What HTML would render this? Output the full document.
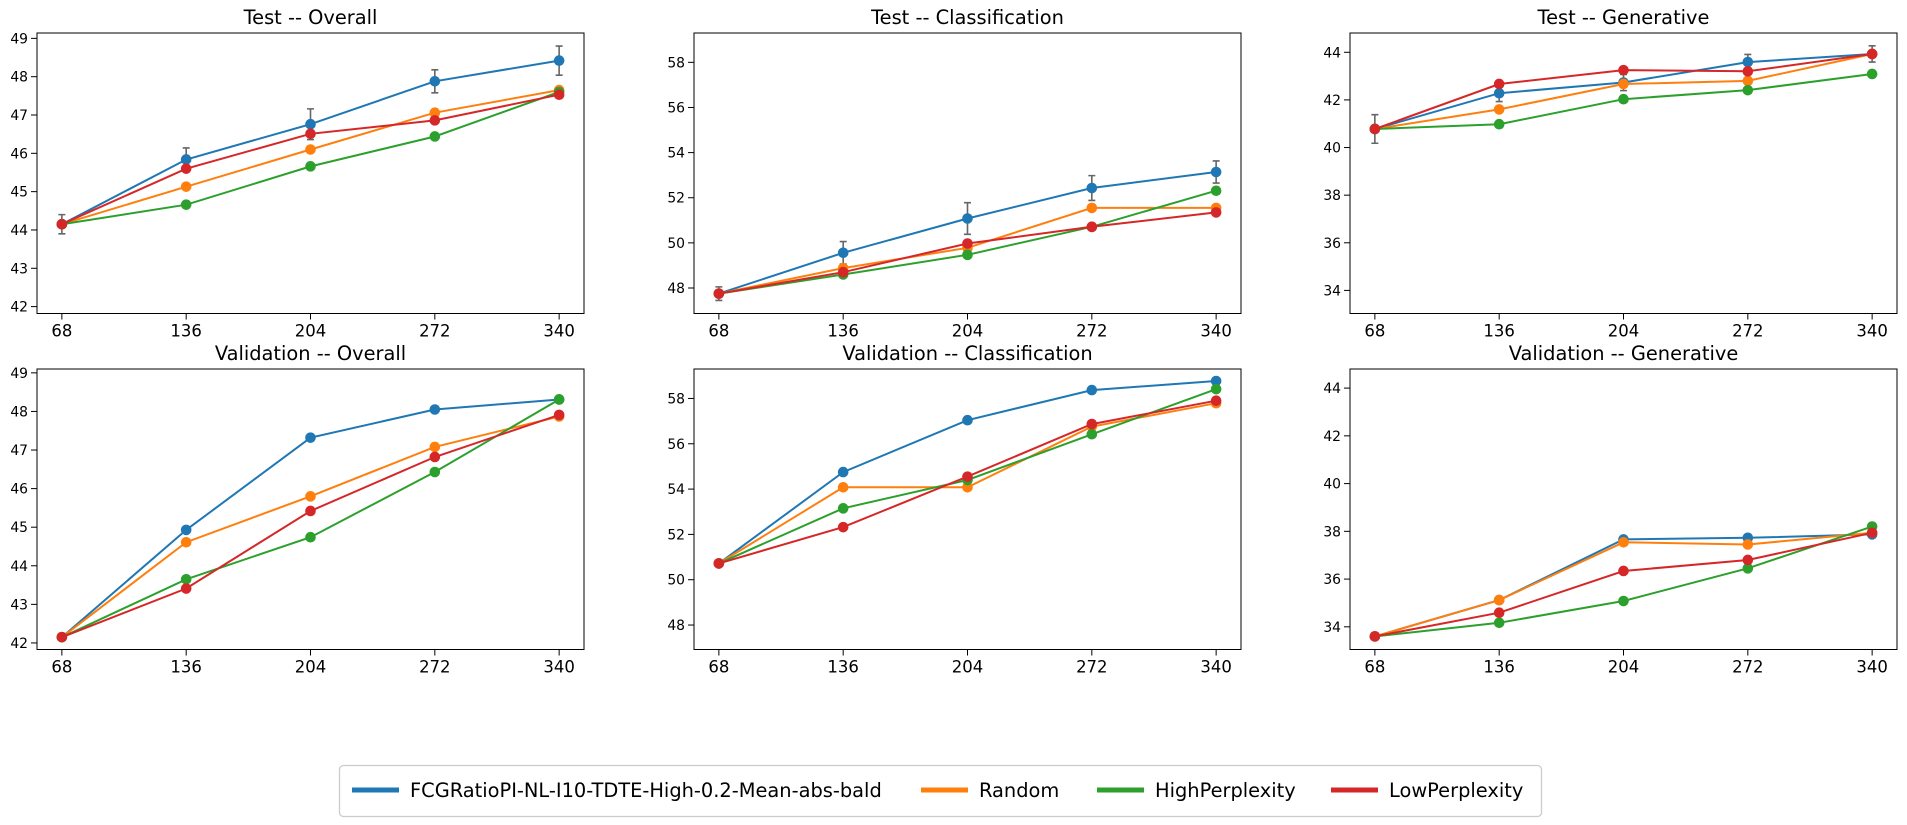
<!DOCTYPE html>
<html><head><meta charset="utf-8">
<style>
html,body{margin:0;padding:0;background:#fff;}
svg{display:block;font-family:"DejaVu Sans","Liberation Sans",sans-serif;}
</style></head>
<body>
<svg id="fig" width="1907" height="825" viewBox="0 0 1907 825" xmlns="http://www.w3.org/2000/svg"></svg>
<script>
const categories = [68, 136, 204, 272, 340];
const seriesNames = ["FCGRatioPI-NL-I10-TDTE-High-0.2-Mean-abs-bald", "Random", "HighPerplexity", "LowPerplexity"];
const seriesColors = ["#1f77b4", "#ff7f0e", "#2ca02c", "#d62728"];

const testOverallBlue = [44.15, 45.84, 46.76, 47.88, 48.42];
const testOverallOrange = [44.15, 45.13, 46.10, 47.06, 47.65];
const testOverallGreen = [44.15, 44.66, 45.66, 46.44, 47.60];
const testOverallRed = [44.15, 45.60, 46.51, 46.86, 47.53];
const testOverallErr = [0.25, 0.30, 0.40, 0.30, 0.38];

const testClassBlue = [47.75, 49.56, 51.08, 52.43, 53.14];
const testClassOrange = [47.75, 48.88, 49.78, 51.55, 51.55];
const testClassGreen = [47.75, 48.60, 49.47, 50.71, 52.31];
const testClassRed = [47.75, 48.70, 49.97, 50.71, 51.35];
const testClassErr = [0.30, 0.50, 0.70, 0.55, 0.49];

const testGenBlue = [40.78, 42.28, 42.73, 43.59, 43.93];
const testGenOrange = [40.78, 41.60, 42.67, 42.80, 43.93];
const testGenGreen = [40.78, 40.98, 42.03, 42.41, 43.09];
const testGenRed = [40.78, 42.67, 43.25, 43.20, 43.93];
const testGenErr = [0.60, 0.35, 0.34, 0.32, 0.34];

const valOverallBlue = [42.15, 44.93, 47.32, 48.05, 48.31];
const valOverallOrange = [42.15, 44.61, 45.80, 47.08, 47.87];
const valOverallGreen = [42.15, 43.65, 44.74, 46.43, 48.31];
const valOverallRed = [42.15, 43.41, 45.42, 46.82, 47.91];

const valClassBlue = [50.72, 54.75, 57.04, 58.37, 58.77];
const valClassOrange = [50.72, 54.08, 54.08, 56.76, 57.79];
const valClassGreen = [50.72, 53.15, 54.40, 56.42, 58.41];
const valClassRed = [50.72, 52.32, 54.55, 56.87, 57.90];

const valGenBlue = [33.60, 35.12, 37.66, 37.73, 37.87];
const valGenOrange = [33.60, 35.12, 37.54, 37.45, 37.94];
const valGenGreen = [33.60, 34.17, 35.08, 36.45, 38.20];
const valGenRed = [33.60, 34.59, 36.34, 36.80, 37.94];

const overallTicks = [42, 43, 44, 45, 46, 47, 48, 49];
const classTicks = [48, 50, 52, 54, 56, 58];
const genTicks = [34, 36, 38, 40, 42, 44];

const NS = "http://www.w3.org/2000/svg";
const svg = document.getElementById("fig");
function mk(tag, attrs, parent) {
  const e = document.createElementNS(NS, tag);
  for (const k in attrs) e.setAttribute(k, attrs[k]);
  (parent || svg).appendChild(e);
  return e;
}

const panels = [
  {title: "Test -- Overall", name: "test-overall", left: 37, top: 33, ymin: 41.82, ymax: 49.14, ticks: overallTicks, series: [testOverallBlue, testOverallOrange, testOverallGreen, testOverallRed], err: testOverallErr},
  {title: "Test -- Classification", name: "test-classification", left: 694, top: 33, ymin: 46.87, ymax: 59.3, ticks: classTicks, series: [testClassBlue, testClassOrange, testClassGreen, testClassRed], err: testClassErr},
  {title: "Test -- Generative", name: "test-generative", left: 1350, top: 33, ymin: 33.03, ymax: 44.81, ticks: genTicks, series: [testGenBlue, testGenOrange, testGenGreen, testGenRed], err: testGenErr},
  {title: "Validation -- Overall", name: "validation-overall", left: 37, top: 369, ymin: 41.83, ymax: 49.1, ticks: overallTicks, series: [valOverallBlue, valOverallOrange, valOverallGreen, valOverallRed], err: null},
  {title: "Validation -- Classification", name: "validation-classification", left: 694, top: 369, ymin: 46.92, ymax: 59.3, ticks: classTicks, series: [valClassBlue, valClassOrange, valClassGreen, valClassRed], err: null},
  {title: "Validation -- Generative", name: "validation-generative", left: 1350, top: 369, ymin: 33.05, ymax: 44.8, ticks: genTicks, series: [valGenBlue, valGenOrange, valGenGreen, valGenRed], err: null}
];
const W = 547, H = 280.5;

panels.forEach(p => {
  const g = mk("g", {});
  
  
  const xmin = 68 - 0.05 * 272, xmax = 340 + 0.05 * 272;
  const xs = v => p.left + (v - xmin) / (xmax - xmin) * W;
  const ys = v => p.top + (p.ymax - v) / (p.ymax - p.ymin) * H;
  const bottom = p.top + H;

  const t = mk("text", {x: p.left + W / 2, y: p.top - 9, "text-anchor": "middle", "font-size": "19.4", fill: "#000"}, g);
  t.textContent = p.title;
  
  

  p.ticks.forEach(v => {
    const y = ys(v);
    mk("line", {x1: p.left - 6, x2: p.left, y1: y, y2: y, stroke: "#000", "stroke-width": 1}, g);
    const lb = mk("text", {x: p.left - 9, y: y + 5, "text-anchor": "end", "font-size": "13.9", fill: "#000"}, g);
    lb.textContent = v;
    
    
  });
  categories.forEach(c => {
    const x = xs(c);
    mk("line", {x1: x, x2: x, y1: bottom, y2: bottom + 6, stroke: "#000", "stroke-width": 1}, g);
    const lb = mk("text", {x: x, y: bottom + 23, "text-anchor": "middle", "font-size": "16.5", fill: "#000"}, g);
    lb.textContent = c;
    
    
  });

  p.series.forEach((vals, si) => {
    const col = seriesColors[si];
    const pts = vals.map((v, i) => xs(categories[i]).toFixed(1) + "," + ys(v).toFixed(1)).join(" ");
    const line = mk("polyline", {points: pts, fill: "none", stroke: col, "stroke-width": 2}, g);
    
    
    if (si === 0 && p.err) {
      vals.forEach((v, i) => {
        const x = xs(categories[i]);
        const y1 = ys(v + p.err[i]), y2 = ys(v - p.err[i]);
        const eb = mk("path", {d: `M${x},${y1}V${y2}M${x-3.5},${y1}H${x+3.5}M${x-3.5},${y2}H${x+3.5}`, stroke: "#666", "stroke-width": 1.6, fill: "none"}, g);
        
        
      });
    }
    vals.forEach((v, i) => {
      const c = mk("circle", {cx: xs(categories[i]), cy: ys(v), r: 5.3, fill: col}, g);
      
      
    });
  });

  const frame = mk("rect", {x: p.left, y: p.top, width: W, height: H, fill: "none", stroke: "#000", "stroke-width": 1}, g);
  
  
});

// legend
const lg = mk("g", {});


mk("rect", {x: 339.5, y: 765.5, width: 1202, height: 51, rx: 4, fill: "#fff", stroke: "#ccc", "stroke-width": 1.3}, lg);
const handleX = [352, 921, 1097, 1331];
seriesNames.forEach((n, i) => {
  const e = mk("g", {}, lg);
  
  
  mk("line", {x1: handleX[i], x2: handleX[i] + 47, y1: 790, y2: 790, stroke: seriesColors[i], "stroke-width": 5}, e);
  const tx = mk("text", {x: handleX[i] + 58, y: 797, "font-size": "19.4", fill: "#000"}, e);
  tx.textContent = n;
});
</script>
</body></html>
